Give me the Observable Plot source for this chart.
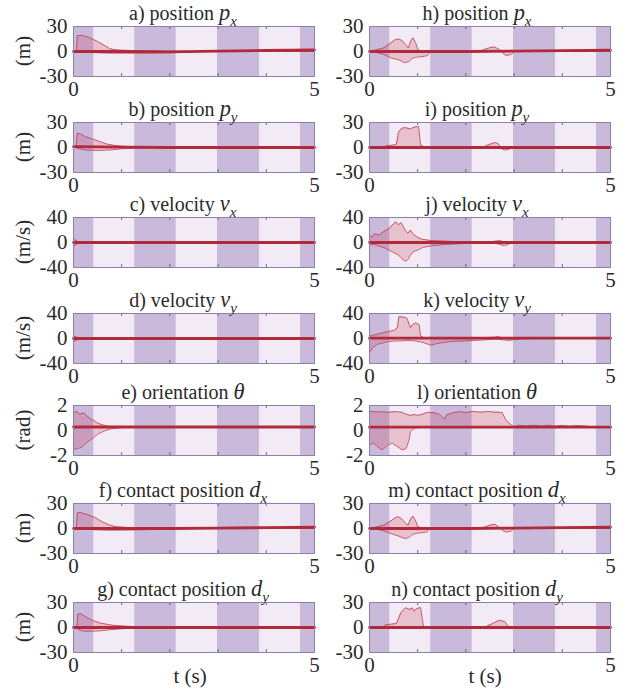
<!DOCTYPE html>
<html><head><meta charset="utf-8">
<script src="https://cdn.jsdelivr.net/npm/d3@7"></script>
<script src="https://cdn.jsdelivr.net/npm/@observablehq/plot@0.6"></script>
<style>
body{margin:0;background:#fff;}
#root{position:relative;width:636px;height:691px;font-family:"Liberation Serif","Times New Roman",serif;color:#2a2a2a;overflow:hidden;}
.panel{position:absolute;}
.title{position:absolute;width:300px;text-align:center;font-size:20px;line-height:20px;white-space:nowrap;}
.title i{font-size:1.12em;}
.title sub{font-size:0.75em;font-style:italic;vertical-align:-0.4em;line-height:0;}
.ylab{position:absolute;font-size:21px;line-height:21px;transform:translate(-50%,-50%) rotate(-90deg);white-space:nowrap;}
.xlab{position:absolute;font-size:21px;line-height:21px;transform:translate(-50%,-50%);white-space:nowrap;}
</style></head><body><div id="root"></div>
<script>
// ---- data ----
const darkStart = [0, 1.27, 2.99, 4.71];
const darkEnd   = [0.42, 2.13, 3.86, 5];
const xTicks = [0, 5];
const minorTicks = [1, 2, 3, 4];
const rowYMax = [30, 30, 40, 40, 2, 30, 30];
const rowYLabel = ["(m)", "(m)", "(m/s)", "(m/s)", "(rad)", "(m)", "(m)"];
const titleText = ["a) position", "b) position", "c) velocity", "d) velocity", "e) orientation", "f) contact position", "g) contact position",
                   "h) position", "i) position", "j) velocity", "k) velocity", "l) orientation", "m) contact position", "n) contact position"];
const titleVar = ["p", "p", "v", "v", "θ", "d", "d", "p", "p", "v", "v", "θ", "d", "d"];
const titleSub = ["x", "y", "x", "y", "", "x", "y", "x", "y", "x", "y", "", "x", "y"];

// band rows: [t, lower, upper]
const bandA = [[0,0,0],[0.06,0,0],[0.08,0,19],[0.15,-0.5,19.5],[0.3,-1,17.5],[0.5,-1.5,12],[0.65,-1.8,7],[0.75,-2,3.5],[0.85,-2,2.2],[1.0,-2,1.5],[1.5,-2,0.8],[2.0,-1.5,0.3],[2.4,-0.5,0],[2.6,0,0],[5,0,0]];
const bandB = [[0,0,0],[0.05,0,0],[0.08,-1,17],[0.15,-2,16],[0.25,-3,13],[0.4,-3.5,10],[0.55,-3.5,7],[0.7,-3,4],[0.85,-2.5,2.5],[1.0,-1.5,1.5],[1.3,-0.8,1],[1.8,-0.3,0.5],[2.5,0,0],[5,0,0]];
const bandC = [[0,-4,5],[0.03,-5,4],[0.06,-3,3],[0.1,-1,1],[0.2,-0.5,0.5],[0.5,0,0],[5,0,0]];
const bandD = [[0,-3,4],[0.03,-4,3],[0.08,-2,2],[0.15,-1,1],[0.3,-0.3,0.3],[0.6,0,0],[5,0,0]];
const bandE = [[0,-1.5,1.45],[0.08,-1.45,1.5],[0.12,-1.4,1.3],[0.17,-1.35,1.35],[0.22,-1.15,1.4],[0.28,-0.95,1.15],[0.35,-0.75,0.95],[0.42,-0.55,0.8],[0.5,-0.3,0.6],[0.6,-0.1,0.45],[0.7,0.05,0.35],[0.8,0.15,0.3],[0.95,0.22,0.3],[1.2,0.25,0.29],[5,0.27,0.28]];
const bandF = [[0,0,0],[0.06,0,0],[0.08,0,19],[0.15,-0.5,19],[0.3,-1,16.5],[0.45,-1.5,13],[0.6,-1.8,8],[0.75,-2,4],[0.9,-2,2],[1.2,-1.8,1],[1.8,-1,0.5],[2.4,0,0],[5,0,0]];
const bandG = [[0,0,0],[0.07,0,0],[0.09,-1.8,16],[0.15,-3.5,16.7],[0.22,-4.5,14],[0.28,-4.5,12],[0.42,-4.3,8],[0.56,-4,5.3],[0.77,-2.5,3],[0.9,-2,2.2],[1.1,-1,1.5],[1.5,-0.5,0.6],[2.0,0,0.2],[2.5,0,0],[5,0,0]];
const bandH = [[0,0,0],[0.16,-1.6,2.4],[0.3,-3.6,4.4],[0.44,-7.6,10.4],[0.54,-9,14.4],[0.61,-10,15],[0.68,-12,13],[0.72,-13.6,10],[0.75,-13,8.5],[0.8,-12.5,4],[0.82,-12,6],[0.85,-10,12],[0.9,-8,16.4],[0.96,-7,10],[1.0,-6.5,2.4],[1.06,-6.4,1],[1.2,-5,0],[1.25,-1,0],[1.3,0,0],[2.3,0,0],[2.38,0,2.4],[2.49,0,4.4],[2.59,0,5.6],[2.69,0,2.4],[2.74,0,0],[2.76,-1.6,0],[2.83,-4.8,0],[2.94,-3.6,0],[3.0,0,0],[5,0,0]];
const bandI = [[0,0,0],[0.3,0,0.5],[0.35,-0.5,2],[0.5,-0.5,3],[0.56,-0.8,4],[0.6,-1,18],[0.65,-1,22],[0.72,-1,24],[0.8,-1,23],[0.86,-1,22],[0.9,-1,24],[0.98,-1,25],[1.02,-1,25],[1.06,-0.5,3],[1.15,0,0.5],[1.3,0,0],[2.35,0,0],[2.45,0,3],[2.55,0,5],[2.62,0,6],[2.68,0,4],[2.72,-1,0],[2.8,-3,0],[2.9,-2,0],[2.95,0,0],[5,0,0]];
const bandJ = [[0,-2,12],[0.05,-4,8],[0.1,-3,14],[0.2,-6,12],[0.3,-8,18],[0.4,-12,22],[0.5,-16,30],[0.55,-18,33],[0.6,-20,28],[0.65,-24,32],[0.7,-28,26],[0.75,-30,18],[0.8,-27,15],[0.85,-20,20],[0.9,-15,14],[1.0,-12,8],[1.1,-8,5],[1.3,-5,3],[1.6,-3,2],[2.0,-1.5,1],[2.5,-0.5,0.5],[2.6,-1,2],[2.7,-3,3],[2.8,-5,1],[2.9,-2,0.5],[3.1,0,0],[5,0,0]];
const bandK = [[0,-23,4],[0.06,-15,5],[0.16,-9.5,7],[0.38,-5,11],[0.51,-4,13],[0.58,-4,17.6],[0.61,-4,35],[0.72,-3.5,34],[0.78,-3,32],[0.85,-3,17],[0.89,-3.5,22],[0.96,-4,25],[1.03,-5,22],[1.06,-5.5,4],[1.13,-6.8,1],[1.27,-10.8,1],[1.4,-8,1],[1.68,-5,1],[2.2,-3,1],[2.6,-1,2],[2.66,-1,3],[2.75,-2,1],[2.9,-3,0.5],[3.1,-1,0],[3.5,0,0],[5,0,0]];
const bandL = [[0,-1.15,1.52],[0.09,-1.0,1.5],[0.16,-1.28,1.48],[0.26,-1.55,1.5],[0.37,-1.2,1.45],[0.47,-1.0,1.5],[0.58,-1.3,1.5],[0.68,-1.55,1.45],[0.76,-1.45,1.3],[0.82,-0.75,1.25],[0.85,-0.08,1.2],[0.92,0.15,1.28],[1.0,0.25,1.22],[1.1,0.25,1.3],[1.2,0.25,1.45],[1.35,0.25,1.42],[1.45,0.25,1.3],[1.52,0.25,1.05],[1.56,0.25,0.93],[1.6,0.25,1.25],[1.75,0.25,1.45],[1.9,0.25,1.5],[2.0,0.25,1.44],[2.15,0.25,1.52],[2.3,0.25,1.46],[2.45,0.25,1.53],[2.58,0.25,1.47],[2.75,0.25,1.45],[2.82,0.25,0.9],[2.92,0.25,0.5],[3.0,0.25,0.3],[3.1,0.25,0.42],[3.25,0.25,0.36],[3.4,0.25,0.42],[3.55,0.25,0.36],[3.7,0.25,0.42],[3.85,0.25,0.36],[4.0,0.25,0.41],[4.15,0.25,0.35],[4.3,0.25,0.4],[4.5,0.25,0.35],[4.6,0.25,0.28],[5,0.25,0.28]];
const bandM = [[0,0,0],[0.16,-1,2],[0.3,-3,4],[0.44,-6,9],[0.54,-8,13],[0.6,-9,14],[0.68,-11,11],[0.75,-12,6],[0.8,-11,4],[0.85,-9,11],[0.9,-7,15],[0.96,-6,9],[1.0,-5.5,2],[1.1,-5,0.5],[1.2,-4,0],[1.25,0,0],[2.3,0,0],[2.4,0,2],[2.5,0,4],[2.6,0,5],[2.68,0,2],[2.72,0,0],[2.76,-2,0],[2.83,-4.5,0],[2.94,-3,0],[3.0,0,0],[5,0,0]];
const bandN = [[0,0,0],[0.3,0,0.2],[0.33,-0.3,3.3],[0.45,-0.5,4],[0.56,-0.5,4.9],[0.65,-0.5,17.8],[0.75,-0.5,23.7],[0.82,-0.5,21.7],[0.89,-0.5,23.5],[0.92,-0.5,19.7],[0.97,-0.5,22],[1.03,-0.5,23.7],[1.06,-0.5,23.7],[1.12,-0.3,1],[1.2,0,0],[2.38,0,0],[2.45,0,2],[2.56,0,4.9],[2.69,0,8.6],[2.8,0,7.4],[2.9,0,0],[5,0,0]];

// mean lines: [t, value]
const meanA = [[0,0],[1,0],[2,-0.5],[3,0.5],[4,1.2],[5,1.8]];
const meanB = [[0,1],[1,0.5],[2,0],[5,0]];
const meanC = [[0,0],[5,0]];
const meanD = [[0,0],[5,0]];
const meanE = [[0,0.28],[5,0.28]];
const meanF = [[0,0],[2,0],[3,0.5],[4,1],[5,1.5]];
const meanG = [[0,0],[5,0]];
const meanH = [[0,0],[2,0],[3,0.5],[4,1],[5,1.5]];
const meanI = [[0,0],[5,0]];
const meanJ = [[0,0],[5,0]];
const meanK = [[0,0.5],[5,0.5]];
const meanL = [[0,0.27],[5,0.27]];
const meanM = [[0,0],[2,0],[3,0.5],[4,1],[5,1.5]];
const meanN = [[0,0],[5,0]];

const bands = [bandA,bandB,bandC,bandD,bandE,bandF,bandG,bandH,bandI,bandJ,bandK,bandL,bandM,bandN];
const means = [meanA,meanB,meanC,meanD,meanE,meanF,meanG,meanH,meanI,meanJ,meanK,meanL,meanM,meanN];

// ---- layout / style ----
const rowTop = [26, 122, 217, 313, 405, 503, 602];
const colLeft = [0, 296];
const titleCenter = [183, 477];
const DARK = "#c9b9da", LIGHT = "#f2eaf4", FRAME = "#8a80ad", TICK = "#4a4a6a";
const FILL = "#c8405a", EDGE = "#c24a5a", LINE = "#b02a3a";
const PH = 50, MT = 2, MB = 26;

const root = document.getElementById("root");
for (let k = 0; k < 14; k++) {
  const col = k < 7 ? 0 : 1, row = k % 7;
  const ym = rowYMax[row];
  const band = bands[k], mean = means[k];
  const svg = Plot.plot({
    width: 318, height: MT + PH + MB,
    marginLeft: 73, marginRight: 4, marginTop: MT, marginBottom: MB,
    x: {domain: [0, 5]},
    y: {domain: [-ym, ym]},
    style: {fontFamily: '"Liberation Serif","Times New Roman",serif', fontSize: "21px", color: "#2a2a2a", background: "transparent", overflow: "visible"},
    marks: [
      Plot.frame({fill: LIGHT, stroke: null}),
      Plot.rect(darkStart, {x1: d => d, x2: (d, i) => darkEnd[i], fill: DARK}),
      Plot.areaY(band, {x: d => d[0], y1: d => d[1], y2: d => d[2], fill: FILL, fillOpacity: 0.24}),
      Plot.line(band, {x: d => d[0], y: d => d[2], stroke: EDGE, strokeWidth: 0.9}),
      Plot.line(band, {x: d => d[0], y: d => d[1], stroke: EDGE, strokeWidth: 0.9}),
      Plot.line(mean, {x: d => d[0], y: d => d[1], stroke: LINE, strokeWidth: 2.8}),
      Plot.tickX(minorTicks, {x: d => d, stroke: TICK, strokeWidth: 0.8, insetTop: PH - 3}),
      Plot.tickX(minorTicks, {x: d => d, stroke: TICK, strokeWidth: 0.8, insetBottom: PH - 3}),
      Plot.frame({stroke: FRAME, strokeWidth: 1}),
      Plot.axisX(xTicks, {tickSize: 0, tickPadding: 5, fontSize: 21, label: null}),
      Plot.axisY([-ym, 0, ym], {tickSize: 0, tickPadding: 6, fontSize: 21, label: null, tickFormat: d => String(d)})
    ]
  });
  svg.classList.add("panel");
  svg.style.left = colLeft[col] + "px";
  svg.style.top = (rowTop[row] - MT) + "px";
  root.appendChild(svg);

  const t = document.createElement("div");
  t.className = "title";
  t.style.left = (titleCenter[col] - 150) + "px";
  t.style.top = (rowTop[row] - 23) + "px";
  t.innerHTML = titleText[k] + " <i>" + titleVar[k] + "</i>" + (titleSub[k] ? "<sub>" + titleSub[k] + "</sub>" : "");
  root.appendChild(t);

  if (col === 0) {
    const yl = document.createElement("div");
    yl.className = "ylab";
    yl.style.left = "23px";
    yl.style.top = (rowTop[row] + PH / 2) + "px";
    yl.textContent = rowYLabel[row];
    root.appendChild(yl);
  }
}
const xlabCenter = [190, 485];
for (const c of xlabCenter) {
  const xl = document.createElement("div");
  xl.className = "xlab";
  xl.style.left = c + "px";
  xl.style.top = "676px";
  xl.textContent = "t (s)";
  root.appendChild(xl);
}
</script></body></html>
